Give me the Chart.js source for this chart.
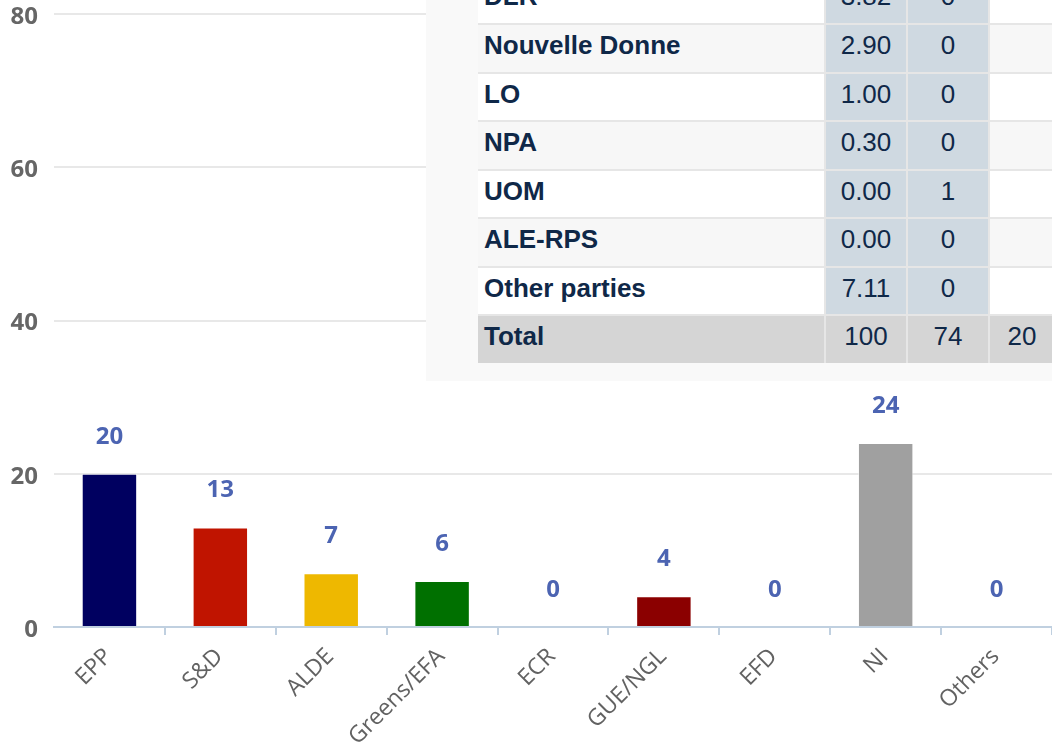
<!DOCTYPE html>
<html>
<head>
<meta charset="utf-8">
<script src="https://cdn.jsdelivr.net/npm/chart.js@4"></script>
<style>
  html, body { margin: 0; padding: 0; background: #fff; overflow: hidden; }
  #wrap { position: relative; width: 1052px; height: 746px; }
  #chart { position: absolute; left: 0; top: 0; }
  #panel {
    position: absolute; left: 426px; top: 0; width: 626px; height: 381px;
    background: #f9f9f9; overflow: hidden;
  }
  #results {
    position: absolute; left: 52px; top: -23.6px;
    display: grid; grid-template-columns: 346px 80px 80px 64px;
    grid-auto-rows: 46.57px; gap: 2px; background: #e6e6e6;
    font-family: "Liberation Sans", Arial, sans-serif; font-size: 26px;
    line-height: 30px; color: #0f2848;
  }
  #results div { padding-top: 5px; box-sizing: border-box; }
  #results .name { font-weight: bold; padding-left: 6px; }
  #results .num { text-align: center; }
  #results .even { background: #fff; }
  #results .odd { background: #f7f7f7; }
  #results .seat { background: #cfd9e1; }
  #results .total { background: #d5d5d5; }
</style>
</head>
<body>
<div id="wrap">
  <canvas id="chart" width="1052" height="746"></canvas>
  <div id="panel"><div id="results"></div></div>
</div>
<script>
// groups in parliament and seats won
const groups = ["EPP", "S&D", "ALDE", "Greens/EFA", "ECR", "GUE/NGL", "EFD", "NI", "Others"]
const seats = [20, 13, 7, 6, 0, 4, 0, 24, 0]
const groupColors = ["#000060", "#c01400", "#eeb800", "#007000", "#0054a5", "#8b0000", "#24b9b9", "#a0a0a0", "#cccccc"]
const yTicks = [0, 20, 40, 60, 80]

// results table (partly visible)
const tableParties = ["DLR", "Nouvelle Donne", "LO", "NPA", "UOM", "ALE-RPS", "Other parties"]
const tableVotes = ["3.82", "2.90", "1.00", "0.30", "0.00", "0.00", "7.11"]
const tableSeats = ["0", "0", "0", "0", "1", "0", "0"]
const tableTotals = ["Total", "100", "74", "20"]

const buildTable = () => {
  const box = document.querySelector("#results")
  let html = ""
  tableParties.forEach((p, i) => {
    const row = i % 2 === 0 ? "even" : "odd"
    html += `<div class="name ${row}">${p}</div>`
    html += `<div class="num seat">${tableVotes[i]}</div>`
    html += `<div class="num seat">${tableSeats[i]}</div>`
    html += `<div class="${row}"></div>`
  })
  html += `<div class="name total">${tableTotals[0]}</div>`
  html += `<div class="num total">${tableTotals[1]}</div>`
  html += `<div class="num total">${tableTotals[2]}</div>`
  html += `<div class="num total">${tableTotals[3]}</div>`
  box.innerHTML = html
}

const valueLabels = {
  id: "valueLabels",
  afterDatasetsDraw(chart) {
    const ctx = chart.ctx
    const meta = chart.getDatasetMeta(0)
    ctx.save()
    ctx.font = "bold 24px 'Open Sans'"
    ctx.fillStyle = "#4c64b2"
    ctx.textAlign = "center"
    ctx.textBaseline = "middle"
    meta.data.forEach((bar, i) => {
      ctx.fillText(String(seats[i]), bar.x, bar.y - 37)
    })
    ctx.restore()
  },
}

const getChart = () => {
  const ctx = document.querySelector("#chart").getContext("2d")
  new Chart(ctx, {
    type: "bar",
    data: {
      labels: groups,
      datasets: [
        {
          data: seats,
          backgroundColor: groupColors,
          borderColor: "rgba(255,255,255,0.6)",
          borderWidth: 1,
          categoryPercentage: 1,
          barPercentage: 0.5,
        },
      ],
    },
    options: {
      responsive: false,
      animation: false,
      layout: { padding: 0 },
      plugins: { legend: { display: false }, tooltip: { enabled: false } },
      scales: {
        x: {
          afterFit(scale) { scale.height = 119 },
          grid: {
            drawOnChartArea: false,
            tickLength: 8,
            lineWidth: 2,
            color: (c) => (c.index === 0 ? "transparent" : "#c0d0e0"),
          },
          border: { color: "#c0d0e0", width: 2 },
          ticks: {
            minRotation: 45,
            maxRotation: 45,
            padding: 8,
            labelOffset: -1,
            color: "#626262",
            font: { family: "Open Sans", size: 23 },
          },
        },
        y: {
          min: 0,
          max: 80,
          afterFit(scale) {
            scale.width = 54
            scale.paddingTop = 14
            scale.paddingBottom = 0
          },
          afterBuildTicks(scale) { scale.ticks = yTicks.map((v) => ({ value: v })) },
          grid: { color: "#e8e8e8", lineWidth: 2, drawTicks: false },
          border: { display: false },
          ticks: {
            padding: 16,
            labelOffset: 3,
            color: "#666",
            font: { family: "Open Sans", size: 24, weight: "bold" },
          },
        },
      },
    },
    plugins: [valueLabels],
  })
}

buildTable()
getChart()
</script>
</body>
</html>
